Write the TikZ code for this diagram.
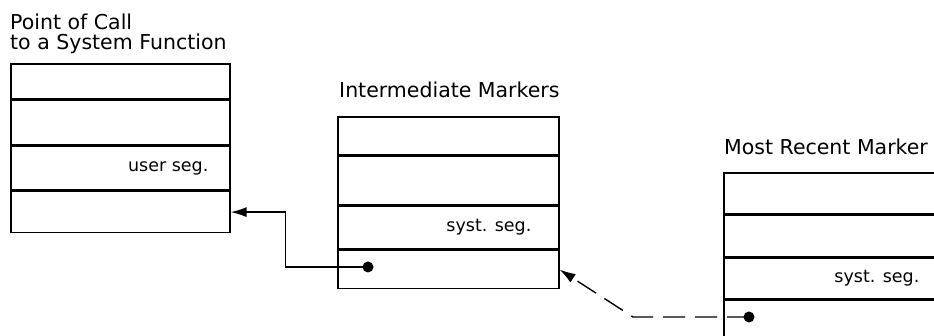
\documentclass[tikz,border=0pt]{standalone}
\usepackage{fontspec}
\setmainfont{DejaVu Sans}
\usetikzlibrary{arrows.meta,positioning}

\begin{document}
\begin{tikzpicture}[
  x=1pt, y=1pt,
  title/.style={font=\fontsize{20.5}{20}\selectfont, align=left, inner sep=0pt, anchor=base west},
  seg/.style={font=\fontsize{17.5}{20}\selectfont, inner sep=0pt},
  row/.style={draw, line width=1.6pt, anchor=north west, inner sep=0pt, minimum width=219pt},
  dot/.style={circle, fill=black, inner sep=0pt, minimum size=11pt},
  ptr/.style={-{Latex[length=16pt,width=10pt]}, line width=1.4pt},
  ptrdashed/.style={ptr, dash pattern=on 22pt off 10pt}
]
\useasboundingbox (0,0) rectangle (934,336);
\clip (0,0) rectangle (934,336);

% point of call
\node[title] (t1) at (10,286) {Point of Call\\to a System Function};
\node[row, minimum height=35pt] (r11) at (10,273) {};
\node[row, minimum height=44pt] (r12) at (r11.south west) {};
\node[row, minimum height=44pt] (r13) at (r12.south west) {};
\node[row, minimum height=41pt] (r14) at (r13.south west) {};
\node[seg, left=22pt of r13.east] (l13) {user seg.};

% intermediate markers
\node[title] (t2) at (339,238) {Intermediate Markers};
\node[row, minimum width=221pt, minimum height=38pt] (r21) at (337,220) {};
\node[row, minimum width=221pt, minimum height=48pt] (r22) at (r21.south west) {};
\node[row, minimum width=221pt, minimum height=43pt] (r23) at (r22.south west) {};
\node[row, minimum width=221pt, minimum height=38pt] (r24) at (r23.south west) {};
\node[seg, left=28pt of r23.east] (l23) {syst. seg.};
\node[dot] (d2) at (368,69) {};

% most recent marker
\node[title] (t3) at (724,181) {Most Recent Marker};
\node[row, minimum width=260pt, minimum height=41pt] (r31) at (723,164) {};
\node[row, minimum width=260pt, minimum height=41pt] (r32) at (r31.south west) {};
\node[row, minimum width=260pt, minimum height=41pt] (r33) at (r32.south west) {};
\node[row, minimum width=260pt, minimum height=70pt] (r34) at (r33.south west) {};
\node[seg, left=65pt of r33.east] (l33) {syst. seg.};
\node[dot] (d3) at (749,19) {};

% links
\draw[ptr] (d2.center) -| ([xshift=55pt]r14.east) -- (r14.east);
\coordinate (k3) at (633,19);
\draw[ptrdashed] (d3.center) -- (k3) -- (r24.east);

\end{tikzpicture}
\end{document}
